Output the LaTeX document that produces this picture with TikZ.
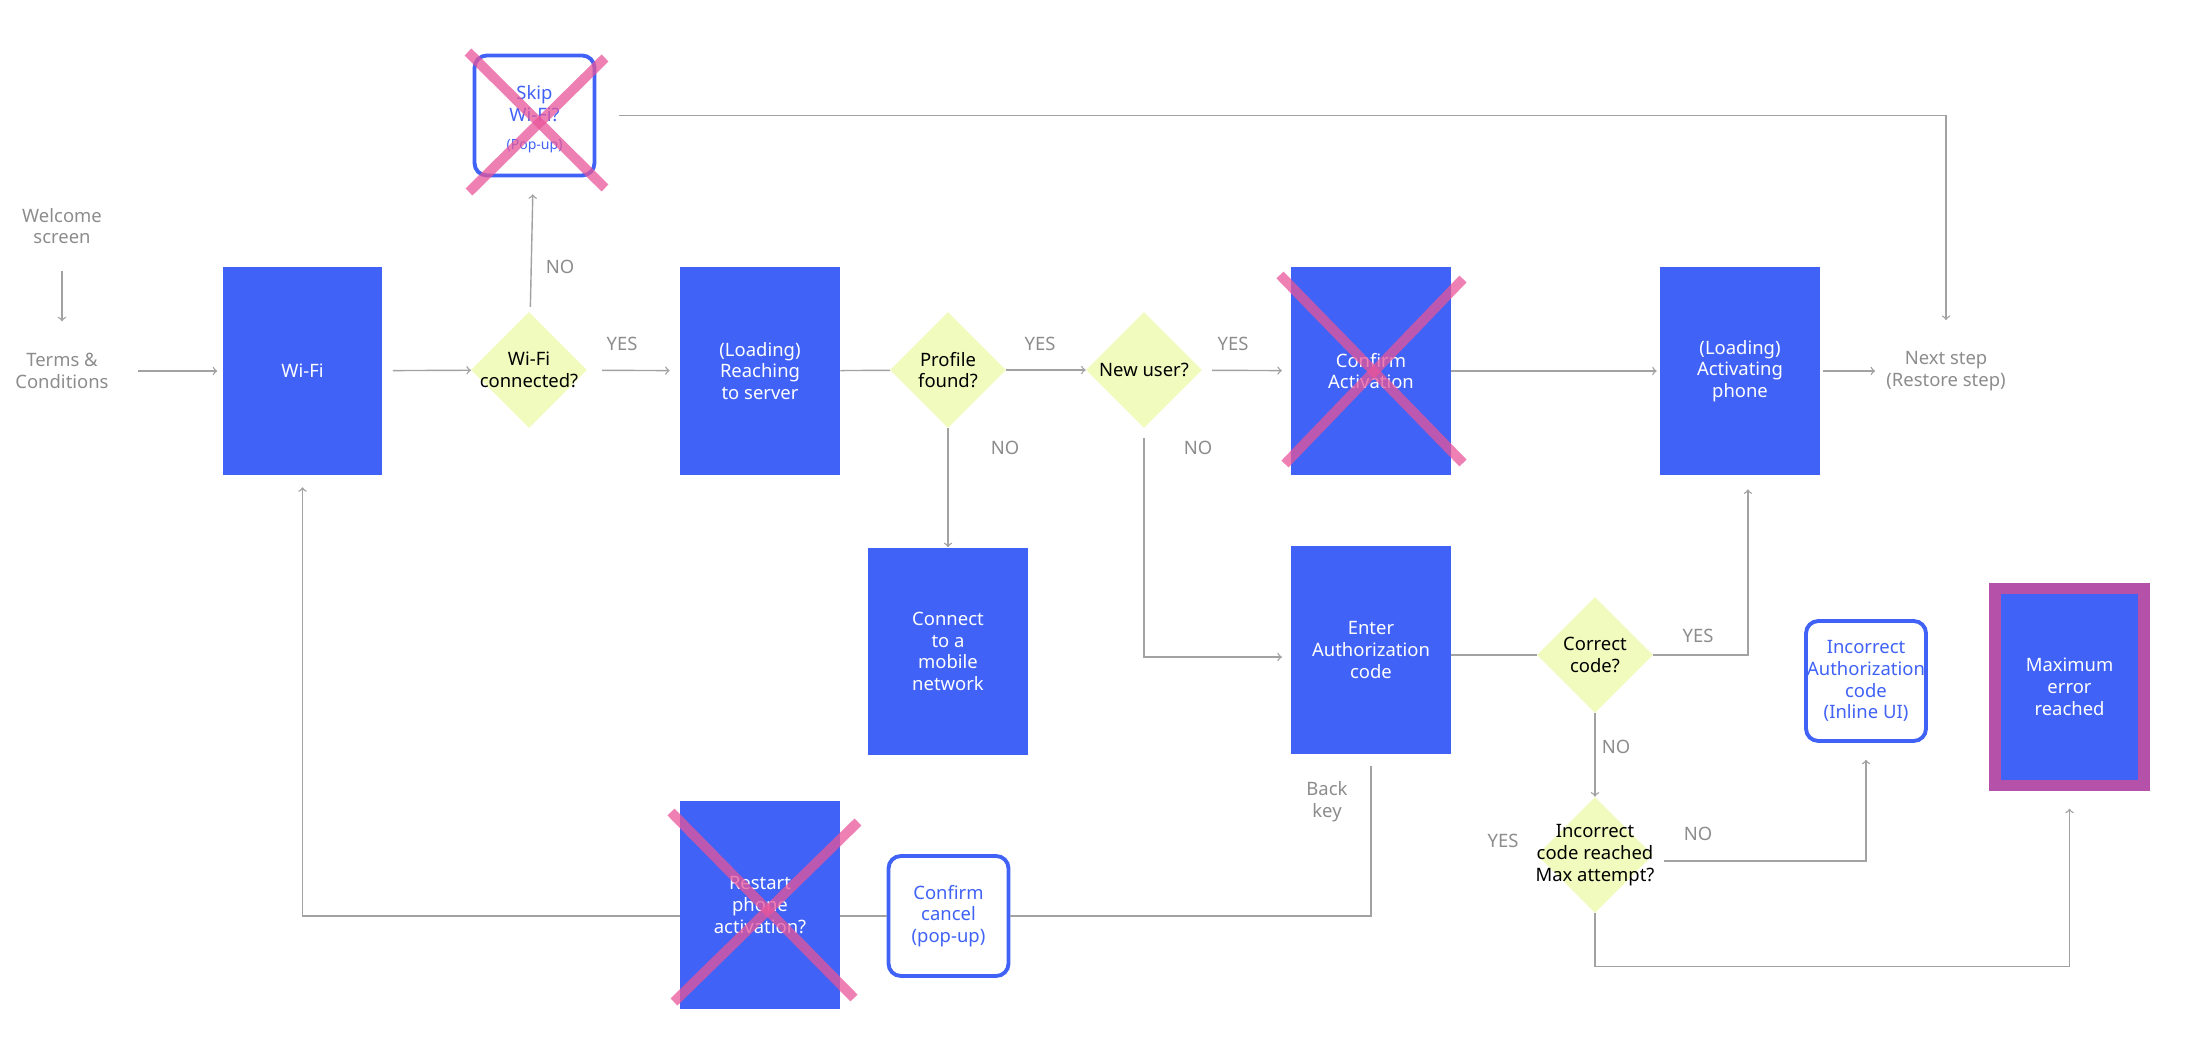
\documentclass[tikz,border=0pt]{standalone}
\usepackage{fontspec}
\setmainfont{Noto Sans}
\usepackage{tikz}
\usetikzlibrary{calc, shapes.geometric}

\definecolor{screenblue}{HTML}{4062F6}
\definecolor{decisionfill}{HTML}{F1FBBE}
\definecolor{flowgray}{HTML}{A2A2A2}
\definecolor{notegray}{HTML}{8C8C8C}
\definecolor{crosspink}{HTML}{E8559A}
\definecolor{errorpurple}{HTML}{B551A8}

\begin{document}
\begin{tikzpicture}[x=0.02cm, y=-0.02cm, font=\fontsize{10.5}{12.4}\selectfont,
		screen/.style={fill=screenblue, text=white, align=center, inner sep=0pt, minimum width=3.2cm, minimum height=4.16cm},
		popup/.style={draw=screenblue, fill=white, text=screenblue, line width=2.2pt, rounded corners=7pt, align=center, inner sep=0pt, minimum width=2.4cm, minimum height=2.4cm},
		decision/.style={diamond, fill=decisionfill, inner sep=0pt, minimum width=2.32cm, minimum height=2.32cm},
		note/.style={text=notegray, align=center, inner sep=0pt},
		flow/.style={flowgray, line width=0.8pt},
		cross/.style={crosspink, line width=5.6pt, draw opacity=0.75}]
		
		\useasboundingbox (0,0) rectangle (2202,1050);
		
		\node[note] (welcome) at (62,226) {Welcome\\screen};
		\node[note] (terms) at (62,371) {Terms \&\\Conditions};
		\node[screen] (wifi) at (302.5,371) {Wi-Fi};
		\node[decision, label={[align=center]center:Wi-Fi\\connected?}] (wificonn) at (529,370) {};
		\node[popup] (skip) at (534.5,115.5) {\rule{0pt}{12pt}Skip\\Wi-Fi?\\[3.5pt]{\fontsize{8}{10}\selectfont(Pop-up)}};
		\node[screen] (reaching) at (760,371) {(Loading)\\Reaching\\to server};
		\node[decision, label={[align=center]center:Profile\\found?}] (profile) at (948,370) {};
		\node[decision, label={[align=center]center:New user?}] (newuser) at (1144,370) {};
		\node[screen] (confirm) at (1371,371) {Confirm\\Activation};
		\node[screen] (activating) at (1740,371) {(Loading)\\Activating\\phone};
		\node[note] (next) at (1946,371) {Next step\\(Restore step)};
		
		\node[screen] (connect) at (948,651.5) {Connect\\to a\\mobile\\network};
		\node[screen] (enter) at (1371,650) {Enter\\Authorization\\code};
		\node[decision, label={[align=center]center:Correct\\code?}] (correct) at (1595,655) {};
		\node[decision, label={[align=center]center:Incorrect\\code reached\\Max attempt?}] (maxdec) at (1595,855) {};
		\node[popup] (incorrect) at (1866,681) {Incorrect\\Authorization\\code\\(Inline UI)};
		\node[screen, draw=errorpurple, line width=6.4pt, minimum width=2.98cm, minimum height=3.94cm] (maxerr) at (2069.5,687) {Maximum\\error\\reached};
		\node[note] (backkey) at (1327,802) {Back\\key};
		\node[screen] (restart) at (760,905) {Restart\\phone\\activation?};
		\node[popup] (cancel) at (948.5,916) {Confirm\\cancel\\(pop-up)};
		
		\node[note] (skipno) at (560,267) {NO};
		\node[note] (wifiyes) at (622,344) {YES};
		\node[note] (profileyes) at (1040,344) {YES};
		\node[note] (newuseryes) at (1233,344) {YES};
		\node[note] (profileno) at (1005,448) {NO};
		\node[note] (newuserno) at (1198,448) {NO};
		\node[note] (correctyes) at (1698,636) {YES};
		\node[note] (correctno) at (1616,747) {NO};
		\node[note] (maxno) at (1698,834) {NO};
		\node[note] (maxyes) at (1503,841) {YES};
		
		\begin{scope}[flow]
			\draw (reaching) -- (profile);
			\draw (enter.east |- correct.west) -- (correct.west);
			\draw[shorten <=6.8pt] (enter.south) |- (cancel.east);
			\draw (cancel.west) -- (restart.east |- cancel.west);
		\end{scope}
		
		\begin{scope}[flow, -to]
			\draw[shorten <=15pt, shorten >=18pt] (welcome) -- (terms);
			\draw[shorten <=16.7pt, shorten >=2.8pt] (terms) -- (wifi);
			\draw[shorten <=5.7pt] (wifi) -- (wificonn);
			\draw[shorten <=3.4pt, shorten >=9.6pt] (wificonn) -- (skip);
			\draw[shorten <=8.5pt, shorten >=5.7pt] (wificonn) -- (reaching);
			\draw (profile) -- (newuser);
			\draw[shorten <=5.7pt, shorten >=5pt] (newuser) -- (confirm);
			\draw[shorten >=1.7pt] (confirm) -- (activating);
			\draw[shorten <=1.7pt, shorten >=6.2pt] (activating) -- (next);
			\draw[shorten <=13pt, shorten >=17.6pt] (skip.east) -| (next.north);
			\draw (profile) -- (connect);
			\draw[shorten <=5.7pt, shorten >=5pt] (newuser.south) |- ([yshift=-4pt]enter.west);
			\draw[shorten >=8pt] (correct.east) -| ([xshift=4.5pt]activating.south);
			\draw (correct) -- (maxdec);
			\draw[shorten <=6.2pt, shorten >=9.6pt] ([yshift=-3.5pt]maxdec.east) -| (incorrect.south);
			\draw[shorten >=10pt] (maxdec.south) -- ++(0,53) -| (maxerr.south);
			\draw[shorten >=6.8pt] (restart.west |- cancel.west) -| (wifi.south);
		\end{scope}
		
		\begin{scope}[cross]
			\draw (468,52) -- (605,188);
			\draw (605,58) -- (469,192);
			\draw (1280,275) -- (1463,463);
			\draw (1463,279) -- (1285,464);
			\draw (671,812) -- (854,998);
			\draw (858,822) -- (674,1002);
		\end{scope}
	\end{tikzpicture}
\end{document}
